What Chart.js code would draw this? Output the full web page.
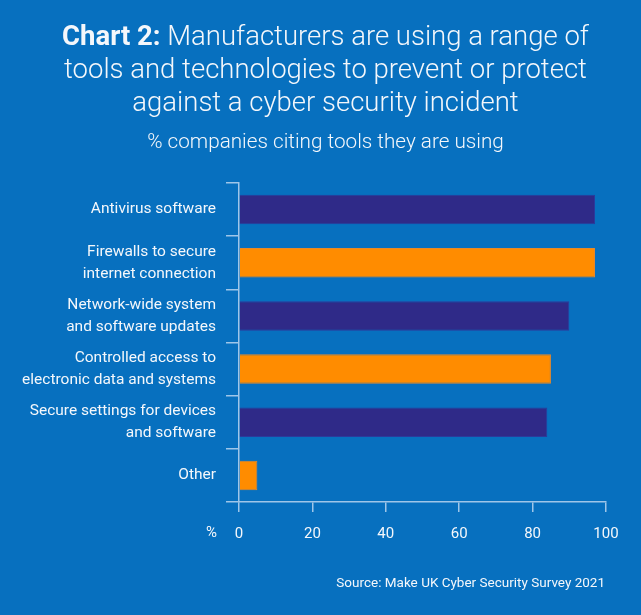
<!DOCTYPE html>
<html>
<head>
<meta charset="utf-8">
<script src="https://cdn.jsdelivr.net/npm/chart.js@4"></script>
<style>
  body { margin: 0; background: #0770bf; font-family: Roboto, sans-serif; }
  #wrap { position: relative; width: 641px; height: 615px; background: #0770bf; overflow: hidden; }
  #chart { position: absolute; left: 0; top: 0; }
  .txt { position: absolute; color: #f4f7fb; white-space: nowrap; }
  #title { left: 5px; width: 641px; top: 19px; text-align: center; font-size: 27.5px; font-weight: 300; line-height: 33px; }
  #title b { font-weight: 700; }
  #subtitle { left: 5px; width: 641px; top: 129px; text-align: center; font-size: 20.7px; font-weight: 300; line-height: 24px; }
  #pct { left: 206px; top: 523px; font-size: 15px; line-height: 18px; }
  #source { right: 36px; top: 573px; font-size: 13.5px; line-height: 18px; }
</style>
</head>
<body>
<div id="wrap">
  <canvas id="chart" width="641" height="615"></canvas>
  <div class="txt" id="title"><b>Chart 2:</b> Manufacturers are using a range of<br>tools and technologies to prevent or protect<br>against a cyber security incident</div>
  <div class="txt" id="subtitle">% companies citing tools they are using</div>
  <div class="txt" id="pct">%</div>
  <div class="txt" id="source">Source: Make UK Cyber Security Survey 2021</div>
</div>
<script>
// Categories and values
const categories = [
    ["Antivirus software"],
    ["Firewalls to secure", "internet connection"],
    ["Network-wide system", "and software updates"],
    ["Controlled access to", "electronic data and systems"],
    ["Secure settings for devices", "and software"],
    ["Other"]
];
const values = [97, 97, 90, 85, 84, 5];
const x_ticks = [0, 20, 40, 60, 80, 100];

const purple = '#2f2a88';
const orange = '#ff8c00';
const axis_color = '#9fc6e9';
const text_color = '#f4f7fb';

// Alternate the bar colours
var bar_colors = [];
var border_colors = [];
values.forEach((v, i) => {
    bar_colors.push(i % 2 === 0 ? purple : orange);
    border_colors.push(i % 2 === 0 ? '#2b3a9c' : '#e8892a');
});

const ctx = document.getElementById('chart');

new Chart(ctx, {
    type: 'bar',
    data: {
        labels: categories,
        datasets: [
            {
                data: values,
                backgroundColor: bar_colors,
                borderColor: border_colors,
                borderWidth: 1,
                barPercentage: 0.555,
                categoryPercentage: 1
            }
        ]
    },
    options: {
        indexAxis: 'y',
        responsive: false,
        animation: false,
        layout: {
            padding: { top: 183, right: 35, bottom: 73, left: 0 }
        },
        plugins: {
            legend: { display: false },
            tooltip: { enabled: false }
        },
        scales: {
            x: {
                min: 0,
                max: 100,
                afterFit: (scale) => { scale.height = 40; },
                afterBuildTicks: (scale) => {
                    scale.ticks = x_ticks.map(v => ({ value: v }));
                },
                border: { color: axis_color, width: 1.5 },
                grid: {
                    drawOnChartArea: false,
                    color: axis_color,
                    lineWidth: 1.5,
                    tickLength: 10
                },
                ticks: {
                    color: text_color,
                    font: { family: 'Roboto', size: 15 },
                    padding: 13
                }
            },
            y: {
                afterFit: (scale) => { scale.width = 239; },
                border: { color: axis_color, width: 1.5 },
                grid: {
                    drawOnChartArea: false,
                    color: axis_color,
                    lineWidth: 1.5,
                    tickLength: 13
                },
                ticks: {
                    color: text_color,
                    font: { family: 'Roboto', size: 15.5, lineHeight: 1.42 },
                    padding: 10
                }
            }
        }
    }
});
</script>
</body>
</html>
